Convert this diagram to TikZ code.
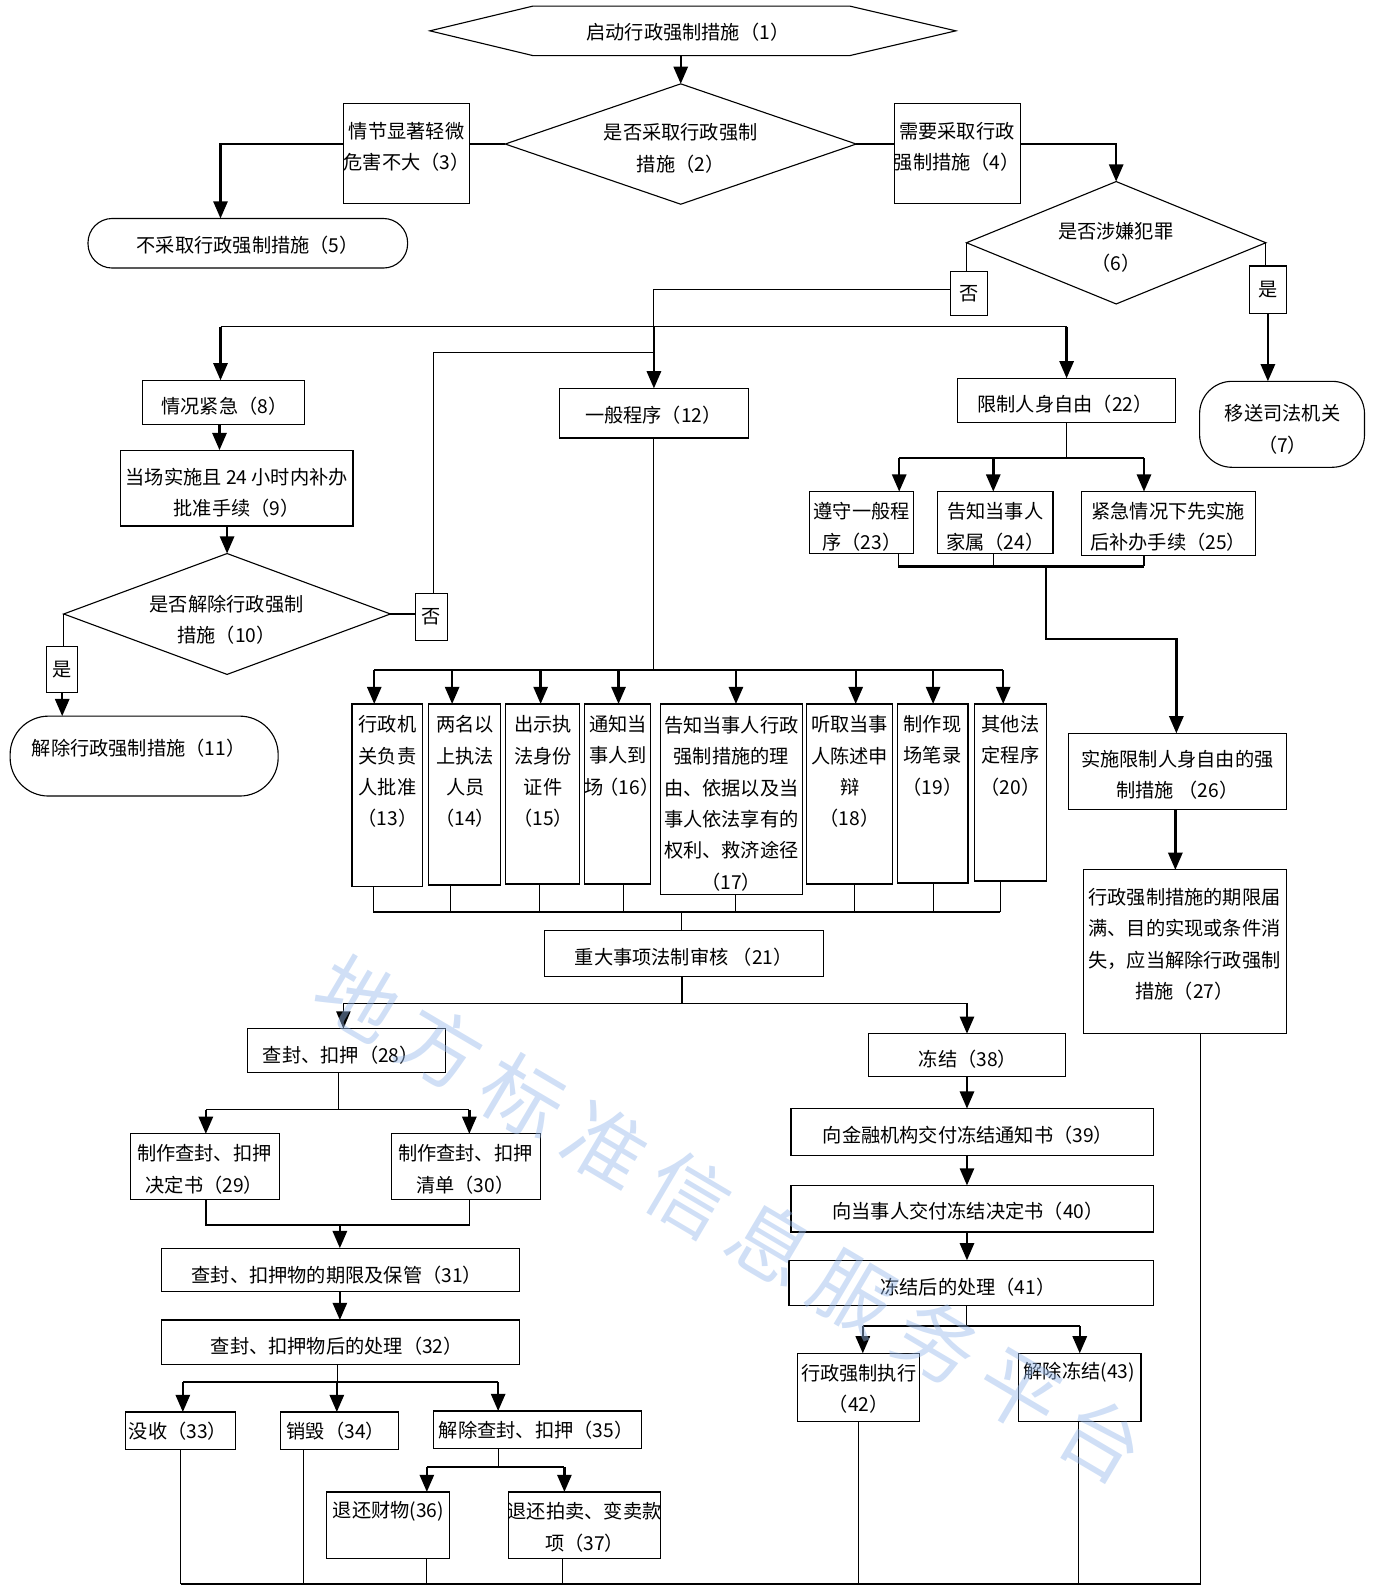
\documentclass[tikz,border=0pt]{standalone}
\usepackage{fontspec}
\setmainfont{Noto Sans CJK SC}
\usetikzlibrary{arrows.meta,shapes.geometric}
\definecolor{wmblue}{RGB}{150,185,235}

% rectangle node from its corner values: [style]{name}{x1}{y1}{x2}{y2}
\newcommand\mybox[6][]{%
  \pgfmathsetmacro\mbw{#5-#3}%
  \pgfmathsetmacro\mbh{#6-#4}%
  \pgfmathsetmacro\mbx{(#3+#5)/2}%
  \pgfmathsetmacro\mby{(#4+#6)/2}%
  \node[box,#1,minimum width=\mbw pt,minimum height=\mbh pt] (#2) at (\mbx,\mby) {};}
\newcommand\wsp{\hspace{15pt}}

\begin{document}
\begin{tikzpicture}[x=1pt,y=-1pt,
  box/.style={draw,line width=1.1pt,inner sep=0pt,outer sep=0pt},
  dia/.style={draw,diamond,line width=1.1pt,inner sep=0pt,outer sep=0pt},
  txt/.style={inner sep=0pt,align=center,font=\fontsize{19}{31}\selectfont},
  lab/.style={box,font=\fontsize{19}{31}\selectfont},
  ln/.style={line width=1pt},
  lnm/.style={line width=1.6pt},
  thk/.style={line width=2.6pt},
  arr/.style={line width=2.4pt,-{Triangle[length=17pt,width=14pt]}},
  arrt/.style={line width=1.2pt,-{Triangle[length=17pt,width=14pt]}},
  wm/.style={inner sep=0pt,font=\fontsize{80}{80}\selectfont,text=wmblue,text opacity=0.45}]
\path[use as bounding box] (0,0) rectangle (1359,1568);

% ---------- start hexagon ----------
\node[inner sep=0pt,outer sep=0pt,minimum width=313pt,minimum height=49pt] (n1) at (683.5,30.5) {};
\draw[line width=1.1pt] (n1.north west) -- (n1.north east) -- ([xshift=105pt]n1.east)
  -- (n1.south east) -- (n1.south west) -- ([xshift=-102pt]n1.west) -- cycle;
\node[txt] (t1) at (680,32) {启动行政强制措施（1）};

% ---------- decisions ----------
\node[dia,minimum width=347pt,minimum height=119pt] (n2) at (673,142.4) {};
\node[txt] (t2) at (673,146.5) {是否采取行政强制\\措施（2）};
\node[dia,minimum width=296pt,minimum height=121pt] (n6) at (1103.5,240) {};
\node[txt] (t6) at (1103,244.5) {是否涉嫌犯罪\\（6）};
\node[dia,minimum width=323pt,minimum height=119.5pt] (n10) at (224.5,607) {};
\node[txt] (t10) at (224,612.5) {是否解除行政强制\\措施（10）};

% ---------- upper boxes ----------
\mybox{n3}{340}{102}{464}{201}
\node[txt] (t3) at (402,145) {情节显著轻微\\危害不大（3）};
\mybox{n4}{884}{102}{1009}{201}
\node[txt] (t4) at (946,145) {需要采取行政\\强制措施（4）};
\mybox[rounded corners=24pt]{n5}{87}{216}{403}{265}
\node[txt] (t5) at (245,242) {不采取行政强制措施（5）};
\node[lab,minimum width=36.5pt,minimum height=44pt] (no6) at (957.75,290) {否};
\node[lab,minimum width=37pt,minimum height=47pt] (yes6) at (1253.5,286.5) {是};
\mybox[rounded corners=32pt]{n7}{1186}{377}{1349}{462}
\node[txt] (t7) at (1268,424.5) {移送司法机关\\（7）};
\mybox{n8}{141}{376}{301}{420}
\node[txt] (t8) at (222,402) {情况紧急（8）};
\mybox{n9}{119}{445}{349}{520}
\node[txt] (t9) at (234,487.5) {当场实施且 24 小时内补办\\批准手续（9）};
\node[lab,minimum width=31pt,minimum height=46pt] (no10) at (426.5,610) {否};
\node[lab,minimum width=31pt,minimum height=46pt] (yes10) at (61.5,662) {是};
\mybox[rounded corners=38pt]{n11}{10}{708}{275}{787}
\node[txt] (t11) at (137,740) {解除行政强制措施（11）};
\mybox{n12}{553}{384}{740}{433}
\node[txt] (t12) at (646,410) {一般程序（12）};
\mybox{n22}{947}{374}{1162}{418}
\node[txt] (t22) at (1053,400) {限制人身自由（22）};

% ---------- general procedure steps ----------
\mybox{n13}{348}{696}{418}{876}
\node[txt] (t13) at (383,763) {行政机\\关负责\\人批准\\（13）};
\mybox{n14}{424}{696}{495}{875}
\node[txt] (t14) at (460,763) {两名以\\上执法\\人员\\（14）};
\mybox{n15}{500}{696}{573}{874}
\node[txt] (t15) at (537,763) {出示执\\法身份\\证件\\（15）};
\mybox{n16}{578}{696}{643}{874}
\node[txt] (t16) at (611,747) {通知当\\事人到\\场\kern-4pt（16）\kern-8pt};
\mybox{n17}{653}{696}{793}{884}
\node[txt] (t17) at (723,794.5) {告知当事人行政\\强制措施的理\\由、依据以及当\\事人依法享有的\\权利、救济途径\\（17）};
\mybox{n18}{797}{696}{882}{874}
\node[txt] (t18) at (840,763) {听取当事\\人陈述申\\辩\\（18）};
\mybox{n19}{887}{696}{957}{873}
\node[txt] (t19) at (922,747) {制作现\\场笔录\\（19）};
\mybox{n20}{963}{696}{1035}{871}
\node[txt] (t20) at (999,747) {其他法\\定程序\\（20）};
\mybox{n21}{538}{920}{814}{965}
\node[txt] (t21) at (676,946) {重大事项法制审核 （21）};

% ---------- personal freedom branch ----------
\mybox{n23}{800}{486}{903}{547}
\node[txt] (t23) at (852,521) {遵守一般程\\序（23）};
\mybox{n24}{927}{486}{1041}{547}
\node[txt] (t24) at (984,521) {告知当事人\\家属（24）};
\mybox{n25}{1069}{486}{1241}{549}
\node[txt] (t25) at (1155,521) {紧急情况下先实施\\后补办手续（25）};
\mybox{n26}{1056}{725}{1272}{800}
\node[txt] (t26) at (1164,766) {实施限制人身自由的强\\制措施 （26）};
\mybox{n27}{1071}{860}{1272}{1022}
\node[txt] (t27) at (1171,933.5) {行政强制措施的期限届\\满、目的实现或条件消\\失，应当解除行政强制\\措施（27）};

% ---------- seal / seize branch ----------
\mybox{n28}{245}{1017}{440}{1060}
\node[txt] (t28) at (337,1043) {查封、扣押（28）};
\mybox{n29}{129}{1121}{276}{1186}
\node[txt] (t29) at (202,1156) {制作查封、扣押\\决定书（29）};
\mybox{n30}{387}{1121}{534}{1186}
\node[txt] (t30) at (460,1156) {制作查封、扣押\\清单（30）};
\mybox{n31}{160}{1234}{514}{1277}
\node[txt] (t31) at (333,1261) {查封、扣押物的期限及保管（31）};
\mybox{n32}{160}{1305}{514}{1349}
\node[txt] (t32) at (333,1331) {查封、扣押物后的处理（32）};
\mybox{n33}{124.5}{1396}{233}{1433}
\node[txt] (t33) at (176,1415) {没收（33）};
\mybox{n34}{277}{1396}{394}{1433}
\node[txt] (t34) at (332,1415) {销毁（34）};
\mybox{n35}{429}{1395}{634}{1432}
\node[txt] (t35) at (530,1414) {解除查封、扣押（35）};
\mybox{n36}{323}{1475}{444}{1541}
\node[txt] (t36) at (384,1494) {退还财物(36)};
\mybox{n37}{503}{1475}{653}{1541}
\node[txt] (t37) at (578,1510) {退还拍卖、变卖款\\项（37）};

% ---------- freeze branch ----------
\mybox{n38}{859}{1022}{1053}{1064}
\node[txt] (t38) at (957,1047) {冻结（38）};
\mybox{n39}{782}{1096}{1140}{1142}
\node[txt] (t39) at (957,1122) {向金融机构交付冻结通知书（39）};
\mybox{n40}{782}{1172}{1140}{1218}
\node[txt] (t40) at (957,1197) {向当事人交付冻结决定书（40）};
\mybox{n41}{780}{1246}{1140}{1291}
\node[txt] (t41) at (957,1273) {冻结后的处理（41）};
\mybox{n42}{788}{1338}{909}{1405}
\node[txt] (t42) at (849,1373) {行政强制执行\\（42）};
\mybox{n43}{1007}{1338}{1128}{1405}
\node[txt] (t43) at (1067,1357) {解除冻结(43)};

% ---------- junction points ----------
\coordinate (j1) at (646.5,286);
\coordinate (j2) at (646.5,323);
\coordinate (j3) at (646.5,348.5);
\coordinate (j4) at (647.5,662.5);
\coordinate (j5) at (674,901.7);
\coordinate (j6) at (674,992);
\coordinate (j7) at (335,1097);
\coordinate (j8) at (336,1211);
\coordinate (j9) at (334,1366.5);
\coordinate (j10) at (492.5,1450.5);
\coordinate (j11) at (1054.5,453);
\coordinate (j12) at (1034,560);
\coordinate (j13) at (1034,632);
\coordinate (j15) at (956,1311);
\coordinate (jb) at (0,1566);

% ---------- connectors: top ----------
\draw[arr] (n2.north |- n1.south) -- (n2.north);
\draw[thk] (n2.west) -- (n2.west -| n3.east);
\draw[arr] (n3.west |- n2.west) -| ([xshift=-27pt]n5.north);
\draw[thk] (n2.east) -- (n2.east -| n4.west);
\draw[arr] (n4.east |- n2.east) -| (n6.north);
\draw[ln] (n6.west) -- (n6.west |- no6.north);
\draw[ln] (no6.west |- j1) -- (j1) -- (j2);
\draw[arr] (j2) -- (n12.north);
\draw[ln] ([xshift=-3pt]n8.north |- j2) -- (n22.north |- j2);
\draw[arr] ([xshift=-3pt]n8.north |- j2) -- ([xshift=-3pt]n8.north);
\draw[arr] (n22.north |- j2) -- (n22.north);
\draw[ln] (n6.east) -- (n6.east |- yes6.north);
\draw[arr] (yes6.south) -- (yes6.south |- n7.north);

% ---------- connectors: urgent branch ----------
\draw[arr] ([xshift=-4pt]n8.south) -- ([xshift=-4pt]n8.south |- n9.north);
\draw[arr] (n10.north |- n9.south) -- (n10.north);
\draw[thk] (n10.east) -- (no10.west |- n10.east);
\draw[ln] ([xshift=2pt]no10.north) |- (j3);
\draw[ln] (n10.west) -- (n10.west |- yes10.north);
\draw[arr] (yes10.south) -- (yes10.south |- n11.north);

% ---------- connectors: general procedure ----------
\draw[ln] (n12.south) -- (n12.south |- j4);
\draw[lnm] ([xshift=-13pt]n13.north |- j4) -- ([xshift=-7.2pt]n20.north |- j4);
\foreach \n/\d in {n13/-13,n14/-12.5,n15/-2,n16/1,n17/4.6,n18/6.5,n19/0.5,n20/-7.2}
  \draw[arr] ([xshift=\d pt]\n.north |- j4) -- ([xshift=\d pt]\n.north);
\foreach \n/\d in {n13/-14,n14/-14.5,n15/-3,n16/6.3,n17/4,n18/5,n19/0.5,n20/-10.3}
  \draw[ln] ([xshift=\d pt]\n.south) -- ([xshift=\d pt]\n.south |- j5);
\draw[lnm] ([xshift=-14pt]n13.south |- j5) -- ([xshift=-10.3pt]n20.south |- j5);
\draw[ln] (j5) -- (j5 |- n21.north);
\draw[lnm] (j6 |- n21.south) -- (j6);
\draw[ln] ([xshift=-3pt]n28.north |- j6) -- (n38.north |- j6);
\draw[arrt] ([xshift=-3pt]n28.north |- j6) -- ([xshift=-3pt]n28.north);
\draw[arr] (n38.north |- j6) -- (n38.north);

% ---------- connectors: seal / seize ----------
\draw[ln] ([xshift=-7.5pt]n28.south) -- ([xshift=-7.5pt]n28.south |- j7);
\draw[lnm] ([xshift=1pt]n29.north |- j7) -- ([xshift=3.5pt]n30.north |- j7);
\draw[arr] ([xshift=1pt]n29.north |- j7) -- ([xshift=1pt]n29.north);
\draw[arr] ([xshift=3.5pt]n30.north |- j7) -- ([xshift=3.5pt]n30.north);
\draw[lnm] ([xshift=1pt]n29.south) |- ([xshift=3.5pt]n30.south |- j8) -- ([xshift=3.5pt]n30.south);
\draw[arr] (j8) -- (j8 |- n31.north);
\draw[arr] (n31.south -| j8) -- (n32.north -| j8);
\draw[ln] (n32.south -| j9) -- (j9);
\draw[lnm] ([xshift=2pt]n33.north |- j9) -- ([xshift=-39pt]n35.north |- j9);
\foreach \n/\d in {n33/2,n34/-2.5,n35/-39}
  \draw[arr] ([xshift=\d pt]\n.north |- j9) -- ([xshift=\d pt]\n.north);
\draw[ln] ([xshift=-39pt]n35.south) -- ([xshift=-39pt]n35.south |- j10);
\draw[thk] ([xshift=38.5pt]n36.north |- j10) -- ([xshift=-20pt]n37.north |- j10);
\draw[arr] ([xshift=38.5pt]n36.north |- j10) -- ([xshift=38.5pt]n36.north);
\draw[arr] ([xshift=-20pt]n37.north |- j10) -- ([xshift=-20pt]n37.north);

% ---------- connectors: personal freedom ----------
\draw[ln] (n22.south) -- (n22.south |- j11);
\draw[lnm] ([xshift=37.5pt]n23.north |- j11) -- ([xshift=-24pt]n25.north |- j11);
\foreach \n/\d in {n23/37.5,n24/-2,n25/-24}
  \draw[arr] ([xshift=\d pt]\n.north |- j11) -- ([xshift=\d pt]\n.north);
\foreach \n/\d in {n23/36.5,n24/-2,n25/-24}
  \draw[ln] ([xshift=\d pt]\n.south) -- ([xshift=\d pt]\n.south |- j12);
\draw[thk] ([xshift=36.5pt]n23.south |- j12) -- ([xshift=-24pt]n25.south |- j12);
\draw[arr] (j12) -- (j13) -| ([xshift=-1pt]n26.north);
\draw[arr] ([xshift=-2pt]n26.south) -- ([xshift=-2pt]n26.south |- n27.north);

% ---------- connectors: freeze ----------
\draw[arr] (n38.south) -- (n38.south |- n39.north);
\draw[arr] (n38.south |- n39.south) -- (n38.south |- n40.north);
\draw[arr] (n38.south |- n40.south) -- (n38.south |- n41.north);
\draw[ln] (n41.south -| j15) -- (j15);
\draw[lnm] ([xshift=4.5pt]n42.north |- j15) -- (n43.north |- j15);
\draw[arr] ([xshift=4.5pt]n42.north |- j15) -- ([xshift=4.5pt]n42.north);
\draw[arr] (n43.north |- j15) -- (n43.north);

% ---------- closing lines at the foot ----------
\foreach \n/\d in {n33/0,n34/-35.5,n36/38.5,n37/-22,n42/0,n43/-1.5,n27/15.5}
  \draw[ln] ([xshift=\d pt]\n.south) -- ([xshift=\d pt]\n.south |- jb);
\draw[lnm] (n33.south |- jb) -- ([xshift=15.5pt]n27.south |- jb);

% ---------- watermark ----------
\node[wm,rotate=-30.6] (wm) at (722,1205) {地\wsp 方\wsp 标\wsp 准\wsp 信\wsp 息\wsp 服\wsp 务\wsp 平\wsp 台};
\end{tikzpicture}
\end{document}
